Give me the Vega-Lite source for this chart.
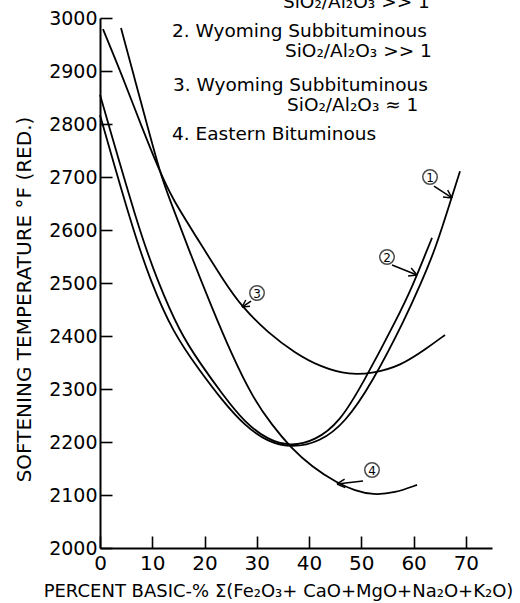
{
  "$schema": "https://vega.github.io/schema/vega-lite/v6.json",
  "width": 392,
  "height": 530,
  "autosize": {"type": "none"},
  "padding": {"left": 100, "top": 18, "right": 28, "bottom": 55},
  "background": "white",
  "config": {
    "view": {"stroke": null},
    "font": "DejaVu Sans",
    "text": {"font": "DejaVu Sans", "color": "black"},
    "axis": {
      "grid": false, "format": "d",
      "titleFont": "DejaVu Sans", "titleFontWeight": "normal", "titleColor": "black",
      "labelFont": "DejaVu Sans", "labelColor": "black", "labelFlush": false,
      "tickSize": -12, "tickColor": "black", "tickWidth": 1.6,
      "domainColor": "black", "domainWidth": 2
    },
    "axisX": {"labelFontSize": 20, "labelPadding": 17, "titleFontSize": 18, "titlePadding": 9, "titleX": 178, "tickCount": 8},
    "axisY": {"labelFontSize": 19, "labelPadding": 15, "titleFontSize": 20, "titlePadding": 14, "titleY": 281, "tickCount": 10}
  },
  "datasets": {
    "curves": [
      {"c": "1", "x": 0, "y": 2817}, {"c": "1", "x": 6.12, "y": 2606}, {"c": "1", "x": 9.57, "y": 2506}, {"c": "1", "x": 13.97, "y": 2406}, {"c": "1", "x": 19.13, "y": 2334}, {"c": "1", "x": 23.34, "y": 2279}, {"c": "1", "x": 27.74, "y": 2230}, {"c": "1", "x": 32.14, "y": 2200}, {"c": "1", "x": 36.73, "y": 2189}, {"c": "1", "x": 42.09, "y": 2200}, {"c": "1", "x": 46.87, "y": 2236}, {"c": "1", "x": 52.04, "y": 2311}, {"c": "1", "x": 58.55, "y": 2436}, {"c": "1", "x": 61.42, "y": 2500}, {"c": "1", "x": 64.09, "y": 2562}, {"c": "1", "x": 66.96, "y": 2651}, {"c": "1", "x": 68.88, "y": 2711},
      {"c": "2", "x": 0, "y": 2855}, {"c": "2", "x": 7.27, "y": 2606}, {"c": "2", "x": 10.91, "y": 2506}, {"c": "2", "x": 15.31, "y": 2406}, {"c": "2", "x": 19.13, "y": 2349}, {"c": "2", "x": 23.34, "y": 2291}, {"c": "2", "x": 27.74, "y": 2236}, {"c": "2", "x": 32.14, "y": 2204}, {"c": "2", "x": 36.35, "y": 2192}, {"c": "2", "x": 41.13, "y": 2202}, {"c": "2", "x": 45.92, "y": 2238}, {"c": "2", "x": 50.32, "y": 2311}, {"c": "2", "x": 57.01, "y": 2436}, {"c": "2", "x": 59.88, "y": 2496}, {"c": "2", "x": 62.56, "y": 2562}, {"c": "2", "x": 63.52, "y": 2585},
      {"c": "3", "x": 0.57, "y": 2979}, {"c": "3", "x": 4.21, "y": 2892}, {"c": "3", "x": 7.84, "y": 2798}, {"c": "3", "x": 11.48, "y": 2709}, {"c": "3", "x": 13.97, "y": 2657}, {"c": "3", "x": 18.18, "y": 2591}, {"c": "3", "x": 23.92, "y": 2500}, {"c": "3", "x": 27.17, "y": 2455}, {"c": "3", "x": 32.14, "y": 2406}, {"c": "3", "x": 37.31, "y": 2368}, {"c": "3", "x": 42.09, "y": 2342}, {"c": "3", "x": 47.83, "y": 2326}, {"c": "3", "x": 52.23, "y": 2330}, {"c": "3", "x": 57.4, "y": 2343}, {"c": "3", "x": 62.56, "y": 2377}, {"c": "3", "x": 66.01, "y": 2402},
      {"c": "4", "x": 4.02, "y": 2981}, {"c": "4", "x": 6.7, "y": 2883}, {"c": "4", "x": 9.18, "y": 2792}, {"c": "4", "x": 11.48, "y": 2709}, {"c": "4", "x": 13.01, "y": 2666}, {"c": "4", "x": 17.22, "y": 2557}, {"c": "4", "x": 21.43, "y": 2453}, {"c": "4", "x": 25.25, "y": 2364}, {"c": "4", "x": 29.27, "y": 2283}, {"c": "4", "x": 32.91, "y": 2232}, {"c": "4", "x": 36.35, "y": 2191}, {"c": "4", "x": 40.56, "y": 2153}, {"c": "4", "x": 45.34, "y": 2123}, {"c": "4", "x": 48.79, "y": 2108}, {"c": "4", "x": 52.23, "y": 2100}, {"c": "4", "x": 56.44, "y": 2104}, {"c": "4", "x": 60.65, "y": 2119}
    ],
    "arrows": [
      {"x": 63.9, "y": 2683.0, "x2": 67.35, "y2": 2660.4},
      {"x": 66.52, "y": 2675.3, "x2": 67.35, "y2": 2660.4},
      {"x": 65.62, "y": 2662.1, "x2": 67.35, "y2": 2660.4},
      {"x": 55.87, "y": 2534.0, "x2": 60.65, "y2": 2515.1},
      {"x": 59.54, "y": 2528.1, "x2": 60.65, "y2": 2515.1},
      {"x": 58.95, "y": 2513.2, "x2": 60.65, "y2": 2515.1},
      {"x": 28.89, "y": 2466.0, "x2": 27.17, "y2": 2454.7},
      {"x": 28.69, "y": 2456.2, "x2": 27.17, "y2": 2454.7},
      {"x": 27.9, "y": 2467.9, "x2": 27.17, "y2": 2454.7},
      {"x": 50.32, "y": 2126.4, "x2": 45.34, "y2": 2120.8},
      {"x": 46.91, "y": 2114.0, "x2": 45.34, "y2": 2120.8},
      {"x": 46.8, "y": 2129.8, "x2": 45.34, "y2": 2120.8}
    ],
    "circles": [
      {"x": 63.14, "y": 2700.0, "n": "1"},
      {"x": 54.91, "y": 2549.1, "n": "2"},
      {"x": 30.04, "y": 2481.1, "n": "3"},
      {"x": 52.04, "y": 2147.2, "n": "4"}
    ],
    "legend": [
      {"x": 35.01, "y": 3018.9, "t": "SiO₂/Al₂O₃ >> 1"},
      {"x": 13.78, "y": 2964.2, "t": "2. Wyoming  Subbituminous"},
      {"x": 35.39, "y": 2926.4, "t": "SiO₂/Al₂O₃ >> 1"},
      {"x": 13.97, "y": 2862.3, "t": "3. Wyoming  Subbituminous"},
      {"x": 35.78, "y": 2824.0, "t": "SiO₂/Al₂O₃ ≈  1"},
      {"x": 13.78, "y": 2769.8, "t": "4. Eastern  Bituminous"}
    ]
  },
  "layer": [
    {
      "data": {"name": "curves"},
      "mark": {"type": "line", "interpolate": "basis", "color": "black", "strokeWidth": 1.8},
      "encoding": {
        "x": {"field": "x", "type": "quantitative", "title": "PERCENT BASIC-% Σ(Fe₂O₃+ CaO+MgO+Na₂O+K₂O)", "scale": {"domain": [0, 75], "nice": false, "zero": false}},
        "y": {"field": "y", "type": "quantitative", "title": "SOFTENING TEMPERATURE °F (RED.)", "scale": {"domain": [2000, 3000], "nice": false, "zero": false}},
        "detail": {"field": "c"}
      }
    },
    {
      "data": {"name": "arrows"},
      "mark": {"type": "rule", "color": "black", "strokeWidth": 1.5},
      "encoding": {
        "x": {"field": "x", "type": "quantitative", "title": "PERCENT BASIC-% Σ(Fe₂O₃+ CaO+MgO+Na₂O+K₂O)"},
        "y": {"field": "y", "type": "quantitative", "title": "SOFTENING TEMPERATURE °F (RED.)"},
        "x2": {"field": "x2"},
        "y2": {"field": "y2"}
      }
    },
    {
      "data": {"name": "circles"},
      "mark": {"type": "point", "shape": "circle", "filled": false, "size": 210, "color": "black", "strokeWidth": 1.5},
      "encoding": {
        "x": {"field": "x", "type": "quantitative", "title": "PERCENT BASIC-% Σ(Fe₂O₃+ CaO+MgO+Na₂O+K₂O)"},
        "y": {"field": "y", "type": "quantitative", "title": "SOFTENING TEMPERATURE °F (RED.)"}
      }
    },
    {
      "data": {"name": "circles"},
      "mark": {"type": "text", "fontSize": 12, "baseline": "middle", "align": "center", "dy": 1},
      "encoding": {
        "x": {"field": "x", "type": "quantitative", "title": "PERCENT BASIC-% Σ(Fe₂O₃+ CaO+MgO+Na₂O+K₂O)"},
        "y": {"field": "y", "type": "quantitative", "title": "SOFTENING TEMPERATURE °F (RED.)"},
        "text": {"field": "n"}
      }
    },
    {
      "data": {"name": "legend"},
      "mark": {"type": "text", "fontSize": 18.5, "baseline": "alphabetic", "align": "left"},
      "encoding": {
        "x": {"field": "x", "type": "quantitative", "title": "PERCENT BASIC-% Σ(Fe₂O₃+ CaO+MgO+Na₂O+K₂O)"},
        "y": {"field": "y", "type": "quantitative", "title": "SOFTENING TEMPERATURE °F (RED.)"},
        "text": {"field": "t"}
      }
    }
  ]
}
